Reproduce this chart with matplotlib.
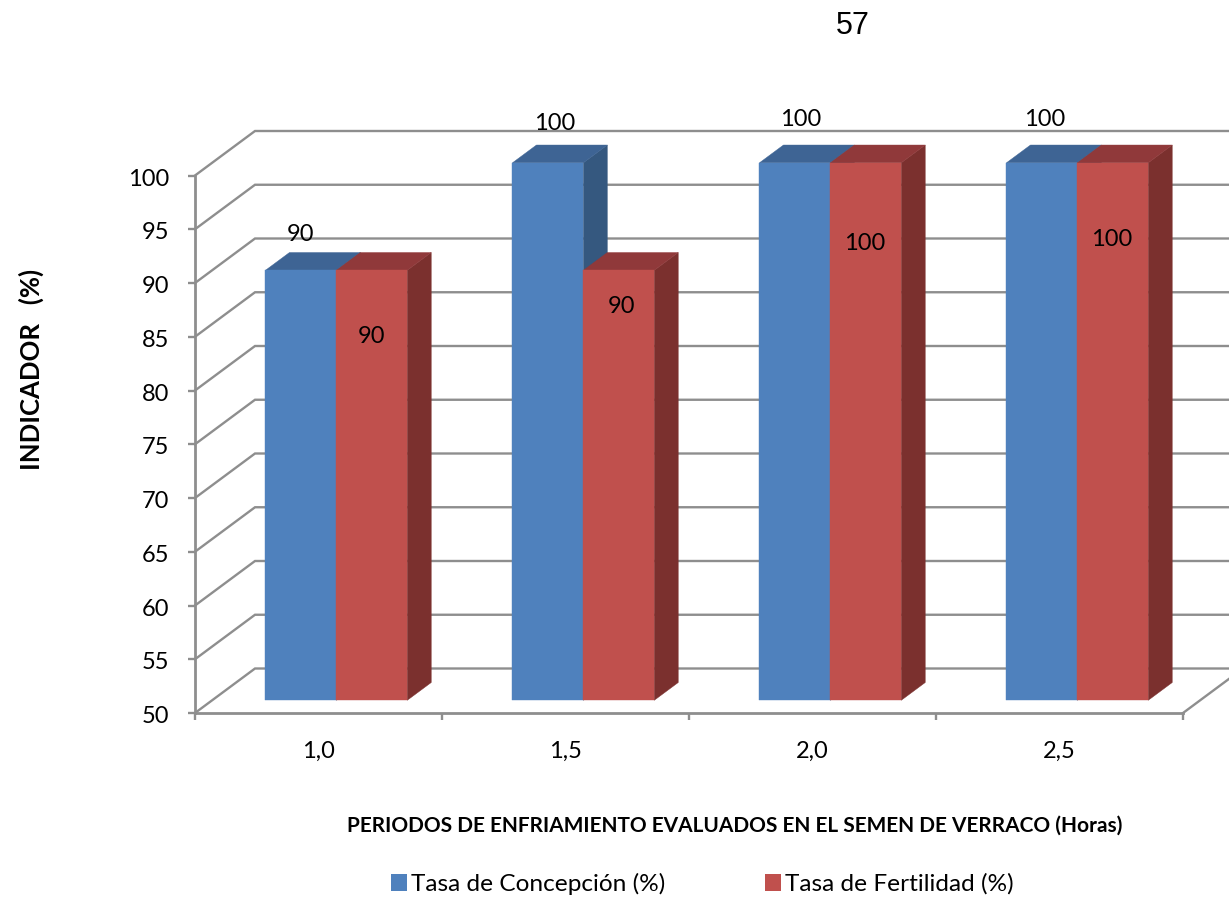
import matplotlib
matplotlib.use("Agg")
import matplotlib.pyplot as plt
from matplotlib.patches import Polygon, Patch
from matplotlib.transforms import Affine2D

# Chart content
categories = ["1,0", "1,5", "2,0", "2,5"]
concepcion = [90, 100, 100, 100]
fertilidad = [90, 90, 100, 100]
y_ticks = [50, 55, 60, 65, 70, 75, 80, 85, 90, 95, 100]
series_names = ["Tasa de Concepción (%)", "Tasa de Fertilidad (%)"]

# Colours of each series: front, top and side faces
BLUE = ("#4F81BD", "#3E6494", "#35587F")
RED = ("#C0504D", "#90393A", "#7B302E")
GRID = "#8E8E8E"
TEXT = "#000000"

W, H, DPI = 1229, 897, 100
LEFT, RIGHT, TOP, BOTTOM = 195, 1183, 175.5, 713

fig = plt.figure(figsize=(W / DPI, H / DPI), dpi=DPI)
ax = fig.add_axes([LEFT / W, 1 - BOTTOM / H, (RIGHT - LEFT) / W, (BOTTOM - TOP) / H])
ax.set_xlim(0, len(categories))
ax.set_ylim(y_ticks[0], y_ticks[-1])
ax.patch.set_visible(False)

# Oblique projection: full wall depth expressed in data units
DEPTH_X = 60 / ((RIGHT - LEFT) / len(categories))
DEPTH_Y = 44.5 / ((BOTTOM - TOP) / (y_ticks[-1] - y_ticks[0]))


def project(x, y, depth):
    return x + depth * DEPTH_X, y + depth * DEPTH_Y


# Walls and floor gridlines
x_end = len(categories)
for v in y_ticks:
    bx, by = project(0, v, 1)
    ex, _ = project(x_end, v, 1)
    ax.plot([0, bx, ex], [v, by, by], color=GRID, lw=1.7, clip_on=False, zorder=1,
            solid_joinstyle="miter")
fx, fy = project(x_end, y_ticks[0], 1)
ax.plot([x_end, fx], [y_ticks[0], fy], color=GRID, lw=1.7, clip_on=False, zorder=1)

# Extruded bars
BAR_W = 0.287
CENTRE_SHIFT = 0.003
NEAR, FAR = 0.285, 0.685


def draw_bar(x0, value, colours, z):
    base = y_ticks[0]
    x1 = x0 + BAR_W
    front = [project(x0, base, NEAR), project(x1, base, NEAR),
             project(x1, value, NEAR), project(x0, value, NEAR)]
    top = [project(x0, value, NEAR), project(x1, value, NEAR),
           project(x1, value, FAR), project(x0, value, FAR)]
    side = [project(x1, base, NEAR), project(x1, base, FAR),
            project(x1, value, FAR), project(x1, value, NEAR)]
    for pts, col in ((side, colours[2]), (top, colours[1]), (front, colours[0])):
        ax.add_patch(Polygon(pts, closed=True, facecolor=col, edgecolor=col, lw=0.3,
                             clip_on=False, zorder=z))


# Hand-placed value labels, in pixels from the top centre of each bar
offsets_a = [(0, 36), (7, 39), (6, 43), (3, 43)]
offsets_b = [(0, -66), (3, -36), (-1, -81), (-1, -77)]

FONT = "Lato"
for i, (a, b) in enumerate(zip(concepcion, fertilidad)):
    c = i + 0.5 + CENTRE_SHIFT
    draw_bar(c - BAR_W, a, BLUE, 3 + i * 2)
    draw_bar(c, b, RED, 4 + i * 2)
    for x0, val, off in ((c - BAR_W, a, offsets_a[i]), (c, b, offsets_b[i])):
        px, py = project(x0 + BAR_W / 2, val, NEAR)
        ax.annotate(str(val), (px, py), xytext=off, textcoords="offset pixels",
                    ha="center", va="center", fontsize=17, family=FONT,
                    color=TEXT, zorder=20, annotation_clip=False)

# Axes frame and ticks
for s in ("top", "right"):
    ax.spines[s].set_visible(False)
for s in ("left", "bottom"):
    ax.spines[s].set_color(GRID)
    ax.spines[s].set_linewidth(2.0)
    ax.spines[s].set_zorder(2)

ax.set_yticks(y_ticks)
ax.set_yticklabels([str(v) for v in y_ticks], fontsize=17, family=FONT, color=TEXT)
ax.tick_params(axis="y", length=5, width=1.7, color=GRID, pad=13.5)
nudge = Affine2D().translate(0, -1.5)
for label in ax.get_yticklabels():
    label.set_transform(label.get_transform() + nudge)
ax.set_xticks(range(len(categories) + 1))
ax.set_xticklabels([])
ax.tick_params(axis="x", which="major", length=5, width=1.7, color=GRID)
ax.set_xticks([i + 0.5 for i in range(len(categories))], minor=True)
ax.set_xticklabels(categories, minor=True, fontsize=17, family=FONT, color=TEXT)
ax.tick_params(axis="x", which="minor", length=0, pad=20)

# Axis titles and page number
fig.text(735 / W, 1 - 826 / H, "PERIODOS DE ENFRIAMIENTO EVALUADOS EN EL SEMEN DE VERRACO (Horas)",
         ha="center", va="center", fontsize=15, fontweight="bold", family=FONT, color=TEXT)
fig.text(31 / W, 1 - 369 / H, "INDICADOR   (%)", rotation=90, ha="center", va="center",
         fontsize=18.5, fontweight="bold", family=FONT, color=TEXT)
fig.text(853 / W, 1 - 26 / H, "57", ha="center", va="center", fontsize=22,
         family="Liberation Sans", color="black")

# Legend
handles = [Patch(facecolor=BLUE[0], label=series_names[0]),
           Patch(facecolor=RED[0], label=series_names[1])]
fig.legend(handles=handles, ncol=2, loc="center", bbox_to_anchor=(702.5 / W, 1 - 884 / H),
           frameon=False, handlelength=0.65, handleheight=0.65,
           handletextpad=0.15, columnspacing=4.1, prop={"family": FONT, "size": 17.6})

fig.savefig("out.png", dpi=DPI)
